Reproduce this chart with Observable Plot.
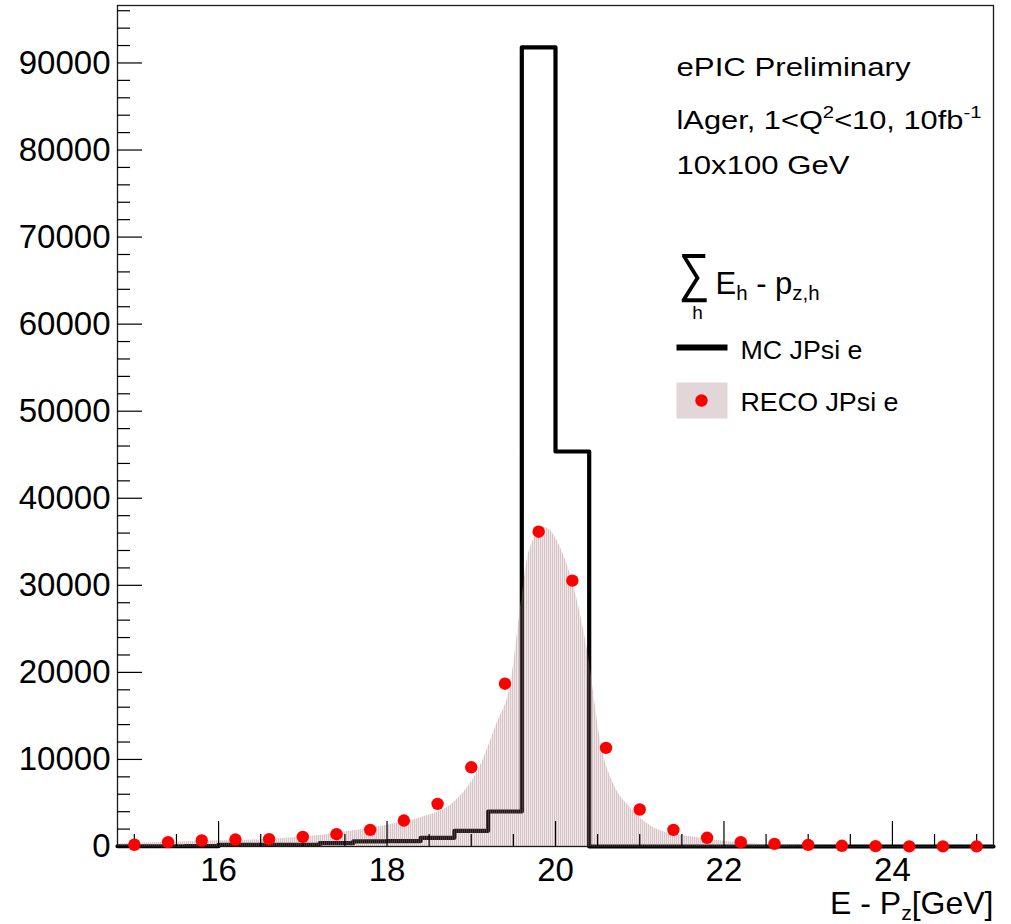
<!DOCTYPE html>
<html>
<head>
<meta charset="utf-8">
<script src="https://cdn.jsdelivr.net/npm/d3@7"></script>
<script src="https://cdn.jsdelivr.net/npm/@observablehq/plot@0.6"></script>
<style>
  html, body { margin: 0; padding: 0; background: #fff; overflow: hidden; }
  #chart svg { display: block; }
</style>
</head>
<body>
<svg width="0" height="0" style="position:absolute">
  <defs>
    <pattern id="recoHatch" width="2" height="2" patternUnits="userSpaceOnUse">
      <rect x="0" y="0" width="1" height="2" fill="rgba(165,120,128,0.44)"></rect>
      <rect x="1" y="0" width="1" height="2" fill="rgba(165,120,128,0.18)"></rect>
    </pattern>
  </defs>
</svg>
<div id="chart"></div>
<script>
// ---- data ----
const binCenters = [15.0, 15.4, 15.8, 16.2, 16.6, 17.0, 17.4, 17.8, 18.2, 18.6, 19.0, 19.4, 19.8,
                    20.2, 20.6, 21.0, 21.4, 21.8, 22.2, 22.6, 23.0, 23.4, 23.8, 24.2, 24.6, 25.0];
const binWidth = 0.4;
const mcCounts = [30, 30, 40, 190, 200, 200, 380, 600, 620, 1000, 1800, 4020, 91800,
                  45370, 0, 0, 0, 0, 0, 0, 0, 0, 0, 0, 0, 0];
const recoCounts = [200, 500, 690, 800, 840, 1110, 1410, 1910, 2980, 4900, 9100, 18700, 36160,
                    30540, 11330, 4250, 1910, 1000, 500, 300, 190, 80, 40, 20, 10, 10];
// smooth RECO envelope (filled area)
const recoCurveX = [14.8, 15.2, 15.6, 16.0, 16.4, 16.8, 17.2, 17.6, 18.0, 18.4, 18.8, 19.1, 19.3,
                    19.47, 19.6, 19.69, 19.88, 20.06, 20.2, 20.38, 20.55, 20.7, 20.91, 21.21, 21.65,
                    22.0, 22.4, 22.8, 23.2, 23.6, 25.2];
const recoCurveY = [280, 420, 560, 660, 750, 950, 1250, 1800, 2450, 3300, 5100, 9100, 14000,
                    18800, 28500, 34000, 36600, 34300, 30500, 22500, 11350, 7000, 4250, 1950, 1050,
                    600, 250, 100, 30, 0, 0];
const xMajorTicks = [16, 18, 20, 22, 24];
const xMinorTicks = [15, 15.5, 16.5, 17, 17.5, 18.5, 19, 19.5, 20.5, 21, 21.5, 22.5, 23, 23.5, 24.5, 25];
const yMajorTicks = [0, 10000, 20000, 30000, 40000, 50000, 60000, 70000, 80000, 90000];
const yMinorTicks = [2000, 4000, 6000, 8000, 12000, 14000, 16000, 18000, 22000, 24000, 26000, 28000,
                     32000, 34000, 36000, 38000, 42000, 44000, 46000, 48000, 52000, 54000, 56000, 58000,
                     62000, 64000, 66000, 68000, 72000, 74000, 76000, 78000, 82000, 84000, 86000, 88000,
                     92000, 94000, 96000];
const xDomain = [14.8, 25.2];
const yDomain = [0, 96600];
const xTitle = "E - P_{z}[GeV]";
const legendHeader = ["ePIC Preliminary", "lAger, 1<Q^{2}<10, 10fb^{-1}", "10x100 GeV"];
const legendSum = "\u2211";
const legendSumIndex = "h";
const legendVar = "E_{h} - p_{z,h}";
const legendSeries = ["MC JPsi e", "RECO JPsi e"];

// widths the texts are stretched to (px)
const textWidths = {
  "ePIC Preliminary": 234,
  "lAger, 1<Q^{2}<10, 10fb^{-1}": 305,
  "10x100 GeV": 173,
  "MC JPsi e": 122,
  "RECO JPsi e": 158,
  "\u2211": 31
};

// ---- derived tables ----
const mcStep = binCenters.map((c, i) => ({x: c - binWidth / 2, y: mcCounts[i]}));
mcStep.push({x: binCenters[binCenters.length - 1] + binWidth / 2, y: mcCounts[mcCounts.length - 1]});
const reco = binCenters.map((c, i) => ({x: c, y: recoCounts[i]}));
const recoCurve = recoCurveX.map((x, i) => ({x, y: recoCurveY[i]}));

const W = 1011, H = 924;
const mL = 117, mR = 18, mT = 5, mB = 78;
const fw = W - mL - mR, fh = H - mT - mB;
const font = "'Liberation Sans', Arial, Helvetica, sans-serif";

const lx = 676 - mL; // legend left edge relative to frame
const txt = (arr, o) => Plot.text(arr, {text: d => d, frameAnchor: "top-left", textAnchor: "start", lineAnchor: "bottom", fill: "black", ...o});

const plot = Plot.plot({
  width: W, height: H,
  marginLeft: mL, marginRight: mR, marginTop: mT, marginBottom: mB,
  style: {fontFamily: font, background: "white", color: "black"},
  x: {domain: xDomain, label: null},
  y: {domain: yDomain, label: null},
  marks: [
    Plot.line(mcStep, {x: "x", y: "y", curve: "step-after", stroke: "black", strokeWidth: 4.2}),
    Plot.areaY(recoCurve, {x: "x", y: "y", curve: "monotone-x", fill: "url(#recoHatch)"}),
    Plot.frame({stroke: "#1a1a1a", strokeWidth: 1.3}),
    Plot.tickX(xMajorTicks, {x: d => d, insetTop: fh - 25, stroke: "black", strokeWidth: 1.2}),
    Plot.tickX(xMinorTicks, {x: d => d, insetTop: fh - 12, stroke: "black", strokeWidth: 1.2}),
    Plot.tickY(yMajorTicks, {y: d => d, insetRight: fw - 25, stroke: "black", strokeWidth: 1.2}),
    Plot.tickY(yMinorTicks, {y: d => d, insetRight: fw - 13, stroke: "black", strokeWidth: 1.2}),
    Plot.axisX({ticks: xMajorTicks, tickSize: 0, tickPadding: 11, fontSize: 33, tickFormat: d => String(d), label: null}),
    Plot.axisY({ticks: yMajorTicks, tickSize: 0, tickPadding: 7, fontSize: 33, tickFormat: d => String(d), label: null}),
    Plot.dot(reco, {x: "x", y: "y", r: 6.2, fill: "#ff0000", stroke: "none"}),
    // x title
    Plot.text([xTitle], {text: d => d, frameAnchor: "bottom-right", textAnchor: "end", lineAnchor: "bottom", dy: 67, fontSize: 32, fill: "black"}),
    // legend header
    txt([legendHeader[0]], {dx: lx, dy: 75 - mT, fontSize: 26}),
    txt([legendHeader[1]], {dx: lx, dy: 128 - mT, fontSize: 26}),
    txt([legendHeader[2]], {dx: lx, dy: 173 - mT, fontSize: 26}),
    txt([legendSum], {dx: lx + 2, dy: 290 - mT, fontSize: 54}),
    txt([legendSumIndex], {dx: 697 - mL, dy: 318 - mT, fontSize: 19, textAnchor: "middle"}),
    txt([legendVar], {dx: 715 - mL, dy: 293 - mT, fontSize: 31}),
    // legend entries
    Plot.frame({fill: "black", stroke: "none", insetLeft: lx, insetRight: 993 - 727, insetTop: 344 - mT, insetBottom: 846 - 350}),
    Plot.frame({fill: "url(#recoHatch)", stroke: "none", insetLeft: lx, insetRight: 993 - 727, insetTop: 382 - mT, insetBottom: 846 - 418}),
    Plot.dot([0], {frameAnchor: "top-left", dx: 701 - mL, dy: 400 - mT, r: 6.2, fill: "#ff0000", stroke: "none"}),
    txt([legendSeries[0]], {dx: 740 - mL, dy: 358 - mT, fontSize: 25}),
    txt([legendSeries[1]], {dx: 740 - mL, dy: 410 - mT, fontSize: 25})
  ]
});

document.getElementById("chart").appendChild(plot);

// rich text: _{..} subscripts, ^{..} superscripts, plus width stretching
function richify(svg) {
  const NS = "http://www.w3.org/2000/svg";
  svg.querySelectorAll("text").forEach(t => {
    const s = t.textContent;
    const w = textWidths[s];
    if (/[_^]\{/.test(s)) {
      const fs = parseFloat(getComputedStyle(t).fontSize) || 16;
      while (t.firstChild) t.removeChild(t.firstChild);
      const re = /([_^])\{([^}]*)\}/g;
      let last = 0, m, pending = 0;
      const add = (str, dy, size) => {
        const ts = document.createElementNS(NS, "tspan");
        ts.textContent = str;
        if (dy) ts.setAttribute("dy", dy.toFixed(2));
        if (size) ts.setAttribute("font-size", size.toFixed(2));
        t.appendChild(ts);
      };
      while ((m = re.exec(s))) {
        if (m.index > last) { add(s.slice(last, m.index), pending, null); pending = 0; }
        const sh = m[1] === "_" ? 0.2 * fs : -0.42 * fs;
        add(m[2], pending + sh, 0.66 * fs);
        pending = -sh;
        last = re.lastIndex;
      }
      if (last < s.length) add(s.slice(last), pending, null);
    }
    if (w) {
      t.setAttribute("textLength", w);
      t.setAttribute("lengthAdjust", "spacingAndGlyphs");
    }
  });
}
richify(plot);
</script>
</body>
</html>
